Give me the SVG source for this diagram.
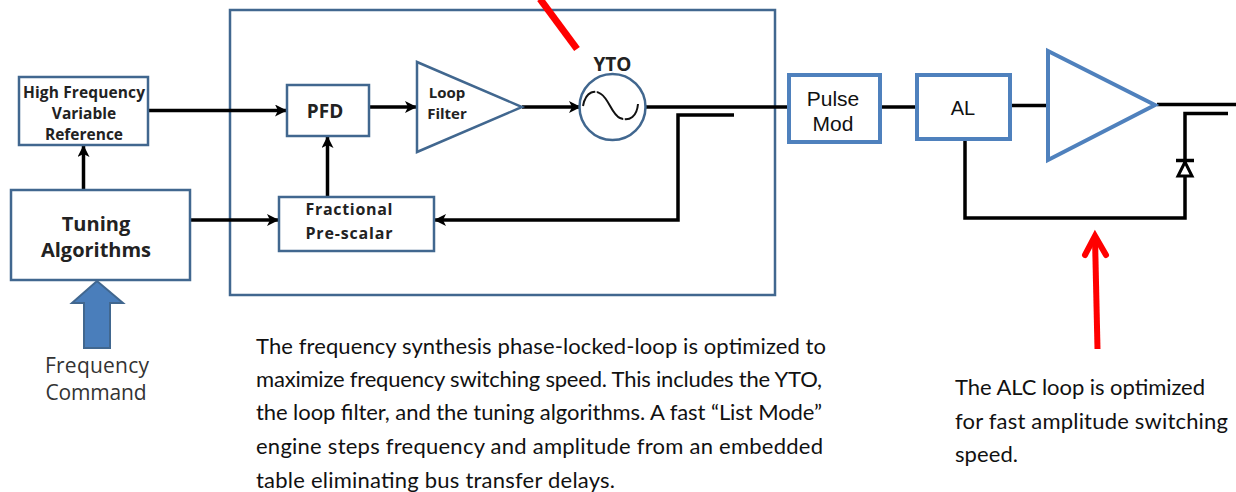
<svg xmlns="http://www.w3.org/2000/svg" width="1236" height="492" viewBox="0 0 1236 492">
<defs>
<marker id="ah" markerUnits="userSpaceOnUse" markerWidth="14" markerHeight="14" refX="11" refY="6" orient="auto"><path d="M0,0 L12,6 L0,12 L3,6 Z" fill="#000"/></marker>
</defs>
<style>
.b{fill:#fff;stroke:#41678f;stroke-width:2.500}
.bl{fill:#fff;stroke:#4f81bd;stroke-width:4}
.w{fill:none;stroke:#000;stroke-width:3.500}
.t{font-family:"Open Sans","Noto Sans",sans-serif;fill:#222;font-weight:700;text-anchor:middle}
.f{font-family:"Open Sans","Noto Sans",sans-serif;fill:#333;font-weight:400;text-anchor:middle;font-size:21px}
.p{font-family:Lato,"Open Sans",sans-serif;font-size:22px;fill:#111}
.s{font-family:"Liberation Sans",sans-serif;font-size:21px;fill:#111;text-anchor:middle}
</style>
<rect width="1236" height="492" fill="#fff"/>
<rect id="pll-frame" x="230" y="10" width="545" height="285" fill="none" stroke="#41678f" stroke-width="2.500"/>
<g id="connectors">
<path class="w" d="M149,110.500H286" marker-end="url(#ah)"/>
<path class="w" d="M83.500,190V146" marker-end="url(#ah)"/>
<path class="w" d="M190,220H278" marker-end="url(#ah)"/>
<path class="w" d="M327.500,197V137" marker-end="url(#ah)"/>
<path class="w" d="M369,107H416" marker-end="url(#ah)"/>
<path class="w" d="M522,107H580" marker-end="url(#ah)"/>
<path class="w" d="M646,107H788"/>
<path class="w" d="M734,115H678V220H435" marker-end="url(#ah)"/>
<path class="w" d="M881,107H916"/>
<path class="w" d="M1011,105.500H1047"/>
<path class="w" d="M1157,104.500H1236"/>
<path class="w" d="M1228,113.500H1185V218H965V140"/>
</g>
<g id="hf-ref"><rect class="b" x="19" y="77" width="129" height="68"/>
<text class="t" font-size="15.500" x="84" y="98" textLength="122">High Frequency</text><text class="t" font-size="15.500" x="84" y="119">Variable</text><text class="t" font-size="15.500" x="84" y="140">Reference</text></g>
<g id="tuning"><rect class="b" x="11" y="190" width="179" height="90"/>
<text class="t" font-size="20" x="96" y="231">Tuning</text><text class="t" font-size="20" x="96" y="257" textLength="110">Algorithms</text></g>
<g id="freq-arrow"><path d="M84,348V303H72L97,281L123,303H110V348Z" fill="#4a7ebb" stroke="#41678f" stroke-width="2"/></g>
<g id="freq-cmd"><text class="f" x="97" y="373" textLength="104">Frequency</text><text class="f" x="96" y="400" textLength="101">Command</text></g>
<g id="pfd"><rect class="b" x="287" y="85" width="82" height="51"/><text class="t" font-size="19" x="325" y="118">PFD</text></g>
<g id="loop-filter"><path class="b" d="M417,62L522,107L417,152Z"/><text class="t" font-size="15" x="447" y="98">Loop</text><text class="t" font-size="15" x="447" y="119">Filter</text></g>
<g id="yto"><circle cx="612.500" cy="107" r="33" class="b"/><path d="M583,106C586,90 596,90 601,94C609,99 612,115 620,118C630,122 637,116 638,104" fill="none" stroke="#111" stroke-width="2"/><path d="M596,89V94M624,116V122" stroke="#fff" stroke-width="1.500" fill="none"/><text class="t" font-size="19" x="612.500" y="71">YTO</text></g>
<g id="prescalar"><rect class="b" x="279" y="197" width="155" height="54"/><text class="t" font-size="16" x="349" y="215" textLength="87">Fractional</text><text class="t" font-size="16" x="349" y="239" textLength="87">Pre-scalar</text></g>
<g id="pulse-mod"><rect class="bl" x="789" y="75" width="91" height="67"/><text class="s" x="833" y="106">Pulse</text><text class="s" x="833" y="131">Mod</text></g>
<g id="al"><rect class="bl" x="917" y="75" width="93" height="64"/><text class="s" style="font-size:20px" x="963" y="115">AL</text></g>
<g id="amp"><path class="bl" d="M1048,51L1155,105L1048,160Z"/></g>
<g id="diode"><path d="M1176,160.500H1194" stroke="#000" stroke-width="3.500" fill="none"/><path d="M1185,162L1178,176H1192Z" fill="#fff" stroke="#000" stroke-width="3"/></g>
<g id="red-arrows"><path d="M540,-1L577,49" fill="none" stroke="#f00" stroke-width="7"/><path d="M1097.500,349L1095,238" fill="none" stroke="#f00" stroke-width="6"/><path d="M1085,255L1095,236L1106,255" fill="none" stroke="#f00" stroke-width="6" stroke-linecap="round"/></g>
<g id="text-pll"><text class="p" x="256" y="354" textLength="570">The frequency synthesis phase-locked-loop is optimized to</text><text class="p" x="256" y="387" textLength="566">maximize frequency switching speed. This includes the YTO,</text><text class="p" x="256" y="420" textLength="566">the loop filter, and the tuning algorithms.  A fast “List Mode”</text><text class="p" x="256" y="454" textLength="567">engine steps frequency and amplitude from an embedded</text><text class="p" x="256" y="488" textLength="359">table eliminating bus transfer delays.</text></g>
<g id="text-alc"><text class="p" x="955" y="395" textLength="250">The ALC loop is optimized</text><text class="p" x="955" y="429" textLength="273">for fast amplitude switching</text><text class="p" x="955" y="462" textLength="63">speed.</text></g>
</svg>
